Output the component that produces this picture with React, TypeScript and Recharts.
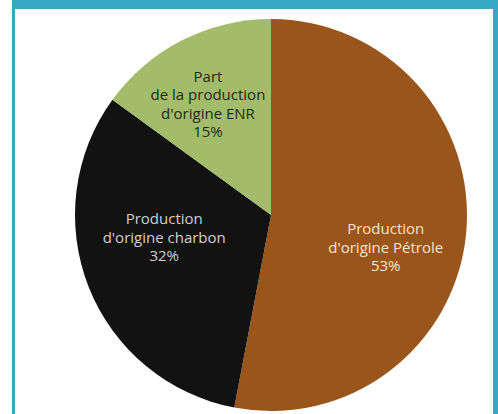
import { PieChart, Pie, Cell } from 'recharts';

const sources = ["Production\nd'origine Pétrole", "Production\nd'origine charbon", "Part\nde la production\nd'origine ENR"];
const shares = [53, 32, 15];
const colors = ['#9a561a', '#121212', '#a3bc6c'];
const labelColors = ['#f6e3c8', '#cfcfcf', '#1e2a12'];

// small nudges so the labels sit like in the original (angle in degrees, radius in px)
const labelTweak = [
  { da: -10, r: 119 },
  { da: -10, r: 109 },
  { da: 2.5, r: 128 },
];

const data = sources.map((name, i) => ({ name, value: shares[i] }));

const RADIAN = Math.PI / 180;

function SliceLabel(props: any) {
  const { cx, cy, midAngle, index, value, name } = props;
  const t = labelTweak[index];
  const a = (midAngle + t.da) * RADIAN;
  const x = cx + t.r * Math.cos(a);
  const y = cy - t.r * Math.sin(a);
  const lines = [...String(name).split('\n'), `${value}%`];
  const lh = 18.5;
  const top = y - ((lines.length - 1) * lh) / 2;
  return (
    <text
      x={x}
      y={top}
      textAnchor="middle"
      dominantBaseline="central"
      fill={labelColors[index]}
      fontFamily="'Open Sans', Lato, sans-serif"
      fontSize={15}
    >
      {lines.map((l, i) => (
        <tspan key={i} x={x} dy={i === 0 ? 0 : lh}>
          {l}
        </tspan>
      ))}
    </text>
  );
}

export default function App() {
  return (
    <div
      style={{
        position: 'absolute',
        top: 0,
        left: 0,
        width: 498,
        height: 414,
        background: '#ffffff',
        overflow: 'hidden',
      }}
    >
      <div style={{ position: 'absolute', top: 0, left: 12, right: 0, height: 9, background: '#35a8c3' }} />
      <div style={{ position: 'absolute', top: 0, left: 12, width: 3, bottom: 0, background: '#35a8c3' }} />
      <div style={{ position: 'absolute', top: 0, right: 0, width: 5, bottom: 0, background: '#35a8c3' }} />
      <div style={{ position: 'absolute', top: 0, left: 0 }}>
        <PieChart width={498} height={414} margin={{ top: 0, right: 0, bottom: 0, left: 0 }}>
          <Pie
            data={data}
            dataKey="value"
            nameKey="name"
            cx={271}
            cy={215}
            outerRadius={196}
            startAngle={90}
            endAngle={-270}
            stroke="none"
            labelLine={false}
            label={SliceLabel}
            isAnimationActive={false}
          >
            {data.map((d, i) => (
              <Cell key={d.name} fill={colors[i]} />
            ))}
          </Pie>
        </PieChart>
      </div>
    </div>
  );
}
